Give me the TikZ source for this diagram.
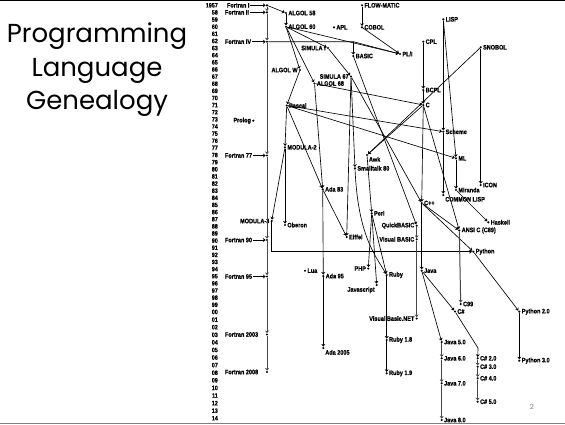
\documentclass[tikz,border=0pt]{standalone}
\usepackage{fontspec}
\setmainfont{Liberation Sans}
\newfontfamily\titlefont{Poppins}
\newfontfamily\langfont[FakeStretch=0.85, BoldFeatures={FakeBold=0.6}]{Liberation Sans}
\usetikzlibrary{arrows.meta, positioning}

\begin{document}
\begin{tikzpicture}[x=1pt, y=-1pt, >={Stealth[length=2.6pt,width=4pt]},
  dot/.style={circle, fill, inner sep=0pt, minimum size=2.4pt},
  lab/.style={font=\langfont\bfseries\fontsize{6.5}{7}\selectfont, inner sep=0.8pt},
  yr/.style={font=\langfont\bfseries\fontsize{6.3}{7}\selectfont, anchor=east, inner sep=0pt},
  arr/.style={->, line width=0.65pt},
  ver/.style={->, line width=1pt, draw=gray!55!black}]
\useasboundingbox (0,0) rectangle (565,424);
\draw[line width=2pt] (0,0) -- (565,0);
\draw[gray, line width=0.8pt] (0,423) -- (565,423);

% title
\node[font=\titlefont\fontsize{26}{33.5}\selectfont, align=center] (title) at (97,70) {Programming\\Language\\Genealogy};
\node[font=\titlefont\fontsize{7}{8}\selectfont, text=gray] (pnum) at (532,407) {2};

% years
\foreach \i in {0,...,57} {
  \pgfmathsetmacro\yy{\i<=43 ? 5.3+\i*7.13 : 312+(\i-43)*7.59}
  \pgfmathtruncatemacro\yv{mod(1957+\i,100)}
  \node[yr] (y\i) at (218,\yy) {\ifnum\i=0 1957\else\ifnum\yv<10 0\fi\yv\fi};
}

% Fortran
\node[dot] (ftn1) at (267,5.3) {};
\node[dot] (ftn2) at (267,12.4) {};
\node[dot] (ftn4) at (267,41.7) {};
\node[dot] (ftn77) at (267,155.5) {};
\node[dot] (ftn90) at (267,240) {};
\node[dot] (ftn95) at (267,276.5) {};
\node[dot] (ftn03) at (267,334.5) {};
\node[dot] (ftn08) at (267,372) {};
\node[lab, anchor=west] (ftn1l) at (226,5.3) {Fortran I};
\node[lab, anchor=west] (ftn2l) at (224,12.4) {Fortran II};
\node[lab, anchor=west] (ftn4l) at (224,41.7) {Fortran IV};
\node[lab, anchor=west] (ftn77l) at (224,155.5) {Fortran 77};
\node[lab, anchor=west] (ftn90l) at (224,240) {Fortran 90};
\node[lab, anchor=west] (ftn95l) at (224,276.5) {Fortran 95};
\node[lab, anchor=west] (ftn03l) at (224,334.5) {Fortran 2003};
\node[lab, anchor=west] (ftn08l) at (224,372) {Fortran 2008};

% other languages
\node[dot, label={[lab]right:ALGOL 58}] (algol58) at (286,13) {};
\node[dot, label={[lab]right:ALGOL 60}] (algol60) at (286,26.7) {};
\node[dot, label={[lab]right:FLOW-MATIC}] (flowmatic) at (362,5.3) {};
\node[dot, label={[lab]right:COBOL}] (cobol) at (362,27.3) {};
\node[dot, label={[lab]right:APL}] (apl) at (334,27.3) {};
\node[dot, label={[lab]right:LISP}] (lisp) at (443.3,19.3) {};
\node[dot, label={[lab]right:CPL}] (cpl) at (423.3,41.7) {};
\node[dot, label={[lab]left:SIMULA I}] (simula1) at (328,48) {};
\node[dot, label={[lab]right:PL/I}] (pl1) at (400,54) {};
\node[dot, label={[lab]right:BASIC}] (basic) at (353.3,56) {};
\node[dot, label={[lab]right:SNOBOL}] (snobol) at (480.7,47.3) {};
\node[dot, label={[lab]left:ALGOL W}] (algolw) at (300,70) {};
\node[dot, label={[lab]left:SIMULA 67}] (simula67) at (351,76.5) {};
\node[dot, label={[lab]right:ALGOL 68}] (algol68) at (314.5,83.5) {};
\node[dot, label={[lab]right:BCPL}] (bcpl) at (423.3,90) {};
\node[dot, label={[lab]right:Pascal}] (pascal) at (286.7,105.5) {};
\node[dot, label={[lab]right:C}] (c) at (423.3,105) {};
\node[dot, label={[lab]left:Prolog}] (prolog) at (253.3,120.7) {};
\node[dot, label={[lab]right:Scheme}] (scheme) at (443.3,131.7) {};
\node[dot, label={[lab]right:MODULA-2}] (modula2) at (285,147.3) {};
\node[dot, label={[lab]below right:Awk}] (awk) at (367,155) {};
\node[dot, label={[lab]right:ML}] (ml) at (456,158.3) {};
\node[dot, label={[lab]right:Smalltalk 80}] (smalltalk) at (355,168.3) {};
\node[dot, label={[lab]right:ICON}] (icon) at (480.7,185) {};
\node[dot, label={[lab]right:Ada 83}] (ada83) at (322.7,189.3) {};
\node[dot, label={[lab]right:Miranda}] (miranda) at (456,190) {};
\node[dot, label={[lab]below right:COMMON LISP}] (commonlisp) at (443.3,195) {};
\node[dot, label={[lab]right:C++}] (cpp) at (421.7,203) {};
\node[dot, label={[lab]right:Perl}] (perl) at (371.7,213.3) {};
\node[dot, label={[lab]left:MODULA-3}] (modula3) at (271.7,221) {};
\node[dot, label={[lab]right:Oberon}] (oberon) at (285,225) {};
\node[dot, label={[lab]right:Haskell}] (haskell) at (488.3,222.3) {};
\node[dot, label={[lab]left:QuickBASIC}] (quickbasic) at (416.7,225.7) {};
\node[dot, label={[lab]right:ANSI C (C89)}] (ansic) at (459.3,230.5) {};
\node[dot, label={[lab]right:Eiffel}] (eiffel) at (346.7,237) {};
\node[dot, label={[lab]left:Visual BASIC}] (vb) at (416.7,239.3) {};
\node[dot, label={[lab]right:Python}] (python) at (473.3,251.7) {};
\node[dot, label={[lab]right:Lua}] (lua) at (305,270.7) {};
\node[dot, label={[lab]left:PHP}] (php) at (368.3,268.5) {};
\node[dot, label={[lab]right:Java}] (java) at (421.7,270.7) {};
\node[dot, label={[lab]right:Ruby}] (ruby) at (386.7,275) {};
\node[dot, label={[lab]right:Ada 95}] (ada95) at (323.3,276) {};
\node[dot, label={[lab]below left:Javascript}] (javascript) at (376.7,285) {};
\node[dot, label={[lab]right:C99}] (c99) at (460.7,304) {};
\node[dot, label={[lab]right:C\#}] (csharp) at (455,311.5) {};
\node[dot, label={[lab]right:Python 2.0}] (python2) at (519.3,311.7) {};
\node[dot, label={[lab]left:Visual Basic.NET}] (vbnet) at (416.7,318.5) {};
\node[dot, label={[lab]below right:Ada 2005}] (ada2005) at (323.3,348) {};
\node[dot, label={[lab]right:Ruby 1.8}] (ruby18) at (386.7,340) {};
\node[dot, label={[lab]right:Java 5.0}] (java5) at (441.7,342) {};
\node[dot, label={[lab]right:C\# 2.0}] (csharp2) at (477.7,358.3) {};
\node[dot, label={[lab]right:Java 6.0}] (java6) at (441.7,358.3) {};
\node[dot, label={[lab]right:Python 3.0}] (python3) at (519.3,360.7) {};
\node[dot, label={[lab]right:C\# 3.0}] (csharp3) at (477.7,366.7) {};
\node[dot, label={[lab]right:Ruby 1.9}] (ruby19) at (386.7,373.3) {};
\node[dot, label={[lab]right:C\# 4.0}] (csharp4) at (477.7,378.3) {};
\node[dot, label={[lab]right:Java 7.0}] (java7) at (441.7,383.3) {};
\node[dot, label={[lab]right:C\# 5.0}] (csharp5) at (477.7,401.7) {};
\node[dot, label={[lab]right:Java 8.0}] (java8) at (441.7,420) {};
\coordinate (f4bend) at (353.3,41.7);
\coordinate (csbend) at (478,348);

% Fortran line
\foreach \a/\b in {ftn1/ftn2, ftn2/ftn4, ftn4/ftn77, ftn77/ftn90, ftn90/ftn95, ftn95/ftn03, ftn03/ftn08}
  \draw[ver] (\a) -- (\b);
\foreach \n in {ftn1, ftn2, ftn4, ftn77, ftn90, ftn95}
  \draw[arr] (\n l) -- (\n);

% links
\draw[arr] (ftn1) -- (algol58);
\draw[arr] (algol58) -- (algol60);
\draw[arr] (algol60) -- (simula1);
\draw[arr] (algol60) -- (algolw);
\draw[arr] (algol60) -- (algol68);
\draw[arr] (algol60) -- (pl1);
\draw[arr] (ftn4) -- (f4bend) -- (pl1);
\draw[arr] (f4bend) -- (basic);
\draw[arr] (flowmatic) -- (cobol);
\draw[arr] (cobol) -- (pl1);
\draw[arr] (cpl) -- (bcpl);
\draw[arr] (bcpl) -- (c);
\draw[arr] (algol68) -- (c);
\draw[arr] (algol68) -- (ada83);
\draw[arr] (simula1) -- (simula67);
\draw[arr] (algolw) -- (pascal);
\draw[arr] (pascal) -- (modula2);
\draw[arr] (modula2) -- (oberon);
\draw[arr] (pascal) -- (ada83);
\draw[arr] (pascal) -- (ml);
\draw[arr] (pascal) -- (scheme);
\draw[arr] (modula2) -- (modula3);
\draw[arr] (modula3) |- (python);
\draw[arr] (lisp) -- (scheme);
\draw[arr] (scheme) -- (commonlisp);
\draw[arr] (lisp) -- (ml);
\draw[arr] (ml) -- (miranda);
\draw[arr] (miranda) -- (haskell);
\draw[arr] (snobol) -- (icon);
\draw[arr] (snobol) -- (awk);
\draw[arr] (c) -- (awk);
\draw[arr] (c) -- (cpp);
\draw[arr] (c) -- (ansic);
\draw[arr] (simula67) -- (smalltalk);
\draw[arr] (simula67) -- (cpp);
\draw[arr] (simula67) -- (eiffel);
\draw[arr] (basic) -- (quickbasic);
\draw[ver] (quickbasic) -- (vb);
\draw[ver] (vb) -- (vbnet);
\draw[arr] (awk) -- (perl);
\draw[arr] (perl) -- (php);
\draw[arr] (perl) -- (javascript);
\draw[arr] (perl) -- (ruby);
\draw[arr] (smalltalk) .. controls (358,235) and (375,255) .. (ruby);
\draw[arr] (ada83) -- (eiffel);
\draw[arr] (ada83) -- (ada95);
\draw[arr] (ada95) -- (ada2005);
\draw[arr] (cpp) -- (java);
\draw[arr] (cpp) -- (ansic);
\draw[arr] (cpp) -- (python);
\draw[arr] (java) -- (csharp);
\draw[arr] (java) -- (java5);
\draw[ver] (java5) -- (java6);
\draw[ver] (java6) -- (java7);
\draw[ver] (java7) -- (java8);
\draw[arr] (csharp) -- (csbend) -- (csharp2);
\draw[ver] (csharp2) -- (csharp3);
\draw[ver] (csharp3) -- (csharp4);
\draw[ver] (csharp4) -- (csharp5);
\draw[ver] (ansic) -- (c99);
\draw[arr] (python) -- (python2);
\draw[arr] (python2) -- (python3);
\draw[arr] (ruby) -- (ruby18);
\draw[arr] (ruby18) -- (ruby19);
\end{tikzpicture}
\end{document}
